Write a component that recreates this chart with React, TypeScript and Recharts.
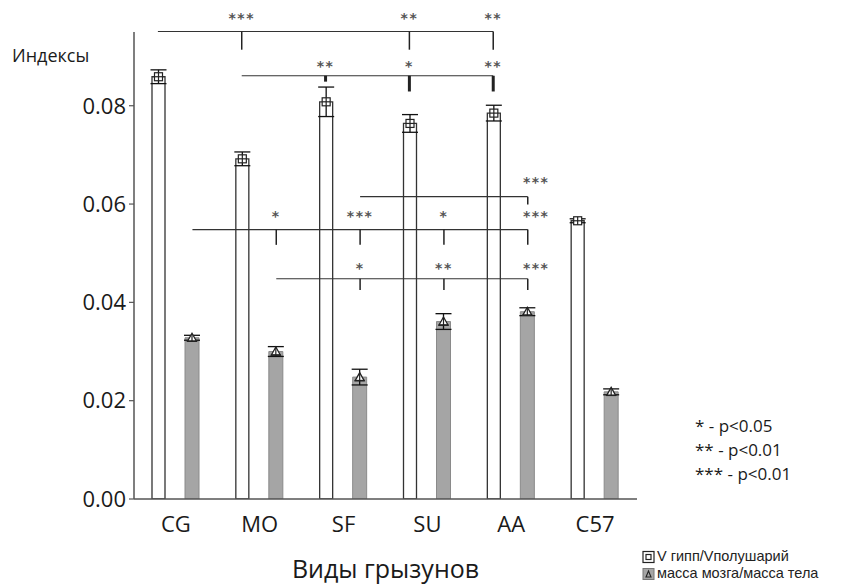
import React from "react";
import { ComposedChart, Bar, XAxis, YAxis, ErrorBar, ReferenceLine, ReferenceDot, Legend, LabelList } from "recharts";

const categories = ["CG", "MO", "SF", "SU", "AA", "C57"];
const hippRatio = [0.0859, 0.0692, 0.0808, 0.0764, 0.0785, 0.0566];
const hippErr = [0.0014, 0.0014, 0.003, 0.0018, 0.0016, 0.0004];
const brainRatio = [0.0328, 0.03, 0.0248, 0.0361, 0.0381, 0.0218];
const brainErr = [0.0005, 0.001, 0.0016, 0.0016, 0.0008, 0.0006];
const yTicks = [0, 0.02, 0.04, 0.06, 0.08];
const pLegend = ["* - p<0.05", "** - p<0.01", "*** - p<0.01"];

// significance brackets: which series, category span, line level, drop points
const brackets = [
  { series: "h", from: 0, to: 4, level: 0.0951, starY: 0.0983, at: [1, 3, 4], drop: [0.0914, 0.0914, 0.0914], stars: ["***", "**", "**"] },
  { series: "h", from: 1, to: 4, level: 0.0861, starY: 0.0884, at: [2, 3, 4], drop: [0.0849, 0.0829, 0.0829], stars: ["**", "*", "**"], thick: true },
  { series: "b", from: 2, to: 4, level: 0.0615, starY: 0.0649, at: [4], drop: [0.0599], stars: ["***"] },
  { series: "b", from: 0, to: 4, level: 0.0548, starY: 0.058, at: [1, 2, 3, 4], drop: [0.0517, 0.0517, 0.0517, 0.0517], stars: ["*", "***", "*", "***"] },
  { series: "b", from: 1, to: 4, level: 0.0448, starY: 0.0474, at: [2, 3, 4], drop: [0.0425, 0.0425, 0.0425], stars: ["*", "**", "***"] },
];

const data = categories.map((name, i) => ({
  name,
  idx: i + 0.5,
  hipp: hippRatio[i],
  hErr: hippErr[i],
  brain: brainRatio[i],
  bErr: brainErr[i],
}));

const pos = (i: number, s: string) => i + 0.5 + (s === "h" ? -0.215 : 0.197);

const SquareMark = (p: any) => {
  const cx = p.x + p.width / 2;
  const cy = p.y;
  return (
    <g>
      <rect x={cx - 4} y={cy - 4} width={8} height={8} fill="#fff" stroke="#222" strokeWidth={1.2} />
      <line x1={cx - 4} x2={cx + 4} y1={cy} y2={cy} stroke="#222" strokeWidth={1.2} />
      <line x1={cx} x2={cx} y1={cy - 4} y2={cy + 4} stroke="#222" strokeWidth={1.2} />
    </g>
  );
};

const TriMark = (p: any) => {
  const cx = p.x + p.width / 2;
  const cy = p.y;
  return (
    <g>
      <polygon points={`${cx - 4.5},${cy + 3.5} ${cx + 4.5},${cy + 3.5} ${cx},${cy - 4.5}`} fill="#fff" stroke="#222" strokeWidth={1.3} />
      <line x1={cx} x2={cx} y1={cy - 4} y2={cy + 4} stroke="#222" strokeWidth={1.2} />
      <line x1={cx - 5} x2={cx + 5} y1={cy + 3.5} y2={cy + 3.5} stroke="#222" strokeWidth={1.5} />
    </g>
  );
};

const LegendBox = (props: any) => {
  const items = props.payload || [];
  return (
    <div style={{ fontFamily: "Liberation Sans, Arial", fontSize: 14.5, color: "#222", lineHeight: "17px" }}>
      {items.map((it: any, i: number) => (
        <div key={i} style={{ display: "flex", alignItems: "center" }}>
          <svg width={16} height={14}>
            {i === 0 ? (
              <g>
                <rect x={2} y={1.5} width={11} height={11} fill="#fff" stroke="#222" strokeWidth={1.2} />
                <rect x={5} y={4.5} width={5} height={5} fill="none" stroke="#222" strokeWidth={1.2} />
              </g>
            ) : (
              <g>
                <rect x={2} y={1.5} width={11} height={11} fill="#a5a5a5" stroke="#777" strokeWidth={1} />
                <polygon points="5,10 10,10 7.5,4" fill="none" stroke="#222" strokeWidth={1.1} />
              </g>
            )}
          </svg>
          <span>{it.value}</span>
        </div>
      ))}
    </div>
  );
};

export default function App() {
  const lines: any[] = [];
  const stars: any[] = [];
  brackets.forEach((b, bi) => {
    lines.push(
      <ReferenceLine key={`h${bi}`} xAxisId="n" ifOverflow="visible" stroke="#333" strokeWidth={1.2}
        segment={[{ x: pos(b.from, b.series), y: b.level }, { x: pos(b.to, b.series), y: b.level }]} />
    );
    b.at.forEach((c, k) => {
      lines.push(
        <ReferenceLine key={`d${bi}-${k}`} xAxisId="n" ifOverflow="visible" stroke="#222" strokeWidth={b.thick ? 3 : 1.5}
          segment={[{ x: pos(c, b.series), y: b.level }, { x: pos(c, b.series), y: b.drop[k] }]} />
      );
      const shift = b.series === "b" && c === 4 ? 0.1 : 0;
      stars.push(
        <ReferenceDot key={`s${bi}-${k}`} xAxisId="n" x={pos(c, b.series) + shift} y={b.starY} r={0} ifOverflow="visible"
          shape={(p: any) => (
            <text x={p.cx} y={p.cy + 7} textAnchor="middle" fill="#555" fontSize={14} letterSpacing={1.5}
              fontFamily="DejaVu Sans" fontWeight="bold">{b.stars[k]}</text>
          )} />
      );
    });
  });

  return (
    <div style={{ position: "absolute", left: 0, top: 0, width: 843, height: 587, background: "#fff" }}>
      <ComposedChart width={843} height={587} data={data} margin={{ top: 32, right: 206, bottom: 48, left: 0 }}
        barGap={20} barCategoryGap={0}>
        <XAxis dataKey="name" height={40} tickLine={false} tickSize={0} tickMargin={17}
          axisLine={{ stroke: "#555", strokeWidth: 1.5 }}
          tick={{ fontSize: 22, fill: "#1a1a1a", fontFamily: "Open Sans" }}
          label={{
            content: (p: any) => (
              <text x={p.viewBox.x + p.viewBox.width / 2} y={p.viewBox.y + 79} textAnchor="middle"
                fontSize={25} fill="#1a1a1a" fontFamily="Open Sans">Виды грызунов</text>
            ),
          }} />
        <XAxis xAxisId="n" dataKey="idx" type="number" scale="linear" domain={[0, 6]} hide allowDataOverflow />
        <YAxis domain={[0, 0.095]} ticks={yTicks} allowDataOverflow width={134} tickSize={5} tickMargin={3}
          tickFormatter={(v: number) => v.toFixed(2)}
          axisLine={{ stroke: "#555", strokeWidth: 1.5 }} tickLine={{ stroke: "#555", strokeWidth: 1.2 }}
          tick={{ fontSize: 22, fill: "#1a1a1a", fontFamily: "Open Sans" }}
          label={{
            content: () => (
              <text x={12} y={62} fontSize={18} fill="#1a1a1a" fontFamily="Open Sans">Индексы</text>
            ),
          }} />
        <Bar dataKey="hipp" name="V гипп/Vполушарий" barSize={13} fill="#fff" stroke="#333" strokeWidth={1.3}
          isAnimationActive={false}>
          <ErrorBar dataKey="hErr" width={8} stroke="#111" strokeWidth={1.3} />
          <LabelList dataKey="hipp" content={SquareMark} />
        </Bar>
        <Bar dataKey="brain" name="масса мозга/масса тела" barSize={14} fill="#a5a5a5" stroke="#8a8a8a" strokeWidth={1}
          isAnimationActive={false}>
          <ErrorBar dataKey="bErr" width={8} stroke="#111" strokeWidth={1.3} />
          <LabelList dataKey="brain" content={TriMark} />
        </Bar>
        {lines}
        {stars}
        <Legend content={LegendBox} layout="vertical" align="center" verticalAlign="middle"
          wrapperStyle={{ position: "absolute", left: 641, top: 548, width: 202 }} />
      </ComposedChart>
      <div style={{ position: "absolute", left: 695, top: 414, fontFamily: "Open Sans", fontSize: 17, color: "#1a1a1a", lineHeight: "24px" }}>
        {pLegend.map((t) => (
          <div key={t}>{t}</div>
        ))}
      </div>
    </div>
  );
}
